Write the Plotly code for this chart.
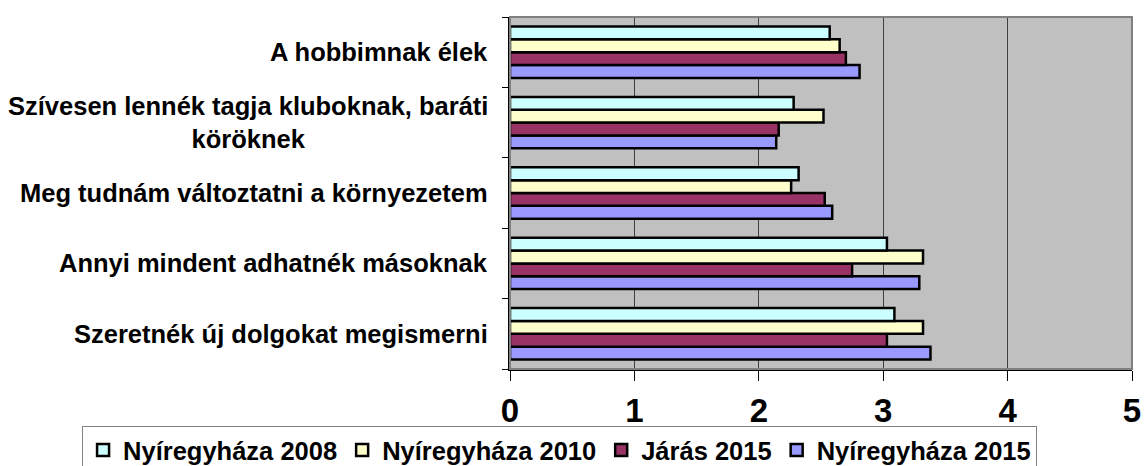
import plotly.graph_objects as go

# Categories listed bottom-to-top (Plotly's category axis order)
categories = [
    "Szeretnék új dolgokat megismerni",
    "Annyi mindent adhatnék másoknak",
    "Meg tudnám változtatni a környezetem",
    "Szívesen lennék tagja kluboknak, baráti<br>köröknek",
    "A hobbimnak élek",
]

series_names = ["Nyíregyháza 2008", "Nyíregyháza 2010", "Járás 2015", "Nyíregyháza 2015"]
nyh_2008 = [3.09, 3.03, 2.32, 2.28, 2.57]
nyh_2010 = [3.32, 3.32, 2.26, 2.52, 2.65]
jaras_2015 = [3.03, 2.75, 2.53, 2.16, 2.70]
nyh_2015 = [3.38, 3.29, 2.59, 2.14, 2.81]

x_ticks = [0, 1, 2, 3, 4, 5]

colors = {
    "Nyíregyháza 2008": "#CCFFFF",
    "Nyíregyháza 2010": "#FFFFCC",
    "Járás 2015": "#993366",
    "Nyíregyháza 2015": "#9999FF",
}
values = {
    "Nyíregyháza 2008": nyh_2008,
    "Nyíregyháza 2010": nyh_2010,
    "Járás 2015": jaras_2015,
    "Nyíregyháza 2015": nyh_2015,
}

FONT = "Arial, 'Liberation Sans', sans-serif"

fig = go.Figure()
# add in reverse so the 2008 bar sits on top within each group
for name in reversed(series_names):
    fig.add_trace(go.Bar(
        y=categories,
        x=values[name],
        name=name,
        orientation="h",
        marker=dict(color=colors[name], line=dict(color="#000000", width=2.5)),
    ))

for cat in categories:
    fig.add_annotation(
        x=0, xref="paper", y=cat, yref="y",
        text=f"<b>{cat}</b>", showarrow=False,
        xanchor="right", yanchor="middle", align="center",
        xshift=-20,
        font=dict(family=FONT, size=25.5, color="#000000"),
    )

# plot-area frame (top / right)
fig.add_shape(type="rect", xref="paper", yref="paper", x0=0, y0=0, x1=1, y1=1,
              line=dict(color="#808080", width=2), layer="above")

fig.update_layout(
    width=1144, height=466,
    margin=dict(l=510, r=12, t=17, b=97, autoexpand=False),
    paper_bgcolor="#FFFFFF",
    plot_bgcolor="#C0C0C0",
    barmode="group",
    bargap=0.27,
    bargroupgap=0,
    font=dict(family=FONT, color="#000000"),
    showlegend=True,
    legend=dict(
        orientation="h",
        traceorder="reversed",
        x=-0.688, xanchor="left",
        y=-0.162, yanchor="top",
        bgcolor="#FFFFFF",
        bordercolor="#808080",
        borderwidth=1,
        font=dict(family=FONT, size=25.5, color="#000000", weight="bold"),
    ),
    xaxis=dict(
        range=[0, 5],
        tickvals=x_ticks,
        ticktext=[f"<b>{t}</b>" for t in x_ticks],
        tickfont=dict(family=FONT, size=33, color="#000000"),
        showgrid=True, gridcolor="#404040", gridwidth=1,
        zeroline=False,
        showline=True, linecolor="#000000", linewidth=2,
        ticks="outside", ticklen=10, tickcolor="#000000", tickwidth=1,
        ticklabelstandoff=1,
        automargin=False,
        fixedrange=True,
    ),
    yaxis=dict(
        type="category",
        range=[-0.5, 4.5],
        showticklabels=False,
        tickson="boundaries",
        ticks="outside", ticklen=6, tickcolor="#000000", tickwidth=1,
        showgrid=False,
        showline=True, linecolor="#000000", linewidth=2,
        automargin=False,
        fixedrange=True,
    ),
)

fig.write_html(
    "out.html",
    config={"displayModeBar": False},
    post_script="document.body.style.margin='0';document.body.style.overflow='hidden';",
)
